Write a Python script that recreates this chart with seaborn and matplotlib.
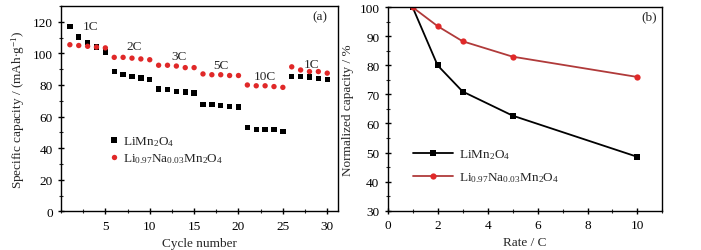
import numpy as np
import pandas as pd
import matplotlib
matplotlib.use('Agg')
import matplotlib.pyplot as plt
from matplotlib.ticker import MultipleLocator
import seaborn as sns

# данные
cycles = list(range(1, 31))
cap_lmo = [117, 110.5, 107, 104, 101,
           88.5, 86.5, 85.5, 84.5, 83.5,
           77.5, 77, 76, 75.5, 75,
           67.5, 67.5, 67, 66.5, 66,
           53, 52, 52, 52, 50.5,
           85.5, 85.5, 85, 84, 83.5]
cap_na = [105.5, 105, 104.5, 104, 103.5,
          97.5, 97.5, 97, 96.5, 96,
          92.5, 92.5, 92, 91, 91,
          87, 86.5, 86.5, 86, 86,
          80, 79.5, 79.5, 79, 78.5,
          91.5, 89.5, 88.5, 88.5, 87.5]

rates = [1, 2, 3, 5, 10]
norm_lmo = [100, 80, 71, 62.7, 48.5]
norm_na = [100, 93.5, 88.3, 83, 76]

rate_labels = ['1C', '2C', '3C', '5C', '10C', '1C']
rate_label_x = [3.3, 8.3, 13.3, 18.0, 23.0, 28.2]
rate_label_y = [117.5, 104.5, 98.5, 92.5, 85.5, 93]

name_lmo = r'LiMn$_2$O$_4$'
name_na = r'Li$_{0.97}$Na$_{0.03}$Mn$_2$O$_4$'

RED = '#e02828'
RED_LINE = '#b03a3a'
FS = 9.5

sns.set_style('ticks')
plt.rcParams['font.family'] = ['Liberation Serif', 'DejaVu Serif']
plt.rcParams['mathtext.fontset'] = 'custom'
plt.rcParams['mathtext.rm'] = 'Liberation Serif'
plt.rcParams['mathtext.it'] = 'Liberation Serif'
plt.rcParams['font.size'] = FS

df_a = pd.DataFrame({
    'cycle': cycles * 2,
    'cap': cap_lmo + cap_na,
    'sample': [name_lmo] * 30 + [name_na] * 30,
})
df_b = pd.DataFrame({
    'rate': rates * 2,
    'norm': norm_lmo + norm_na,
    'sample': [name_lmo] * 5 + [name_na] * 5,
})

fig = plt.figure(figsize=(7.01, 2.51), dpi=100)
ax1 = fig.add_axes([0.087, 0.154, 0.395, 0.818])
ax2 = fig.add_axes([0.553, 0.157, 0.392, 0.810])

# (a) — циклирование при разных токах
sns.scatterplot(data=df_a, x='cycle', y='cap', hue='sample', style='sample',
                markers={name_lmo: 's', name_na: 'o'},
                palette={name_lmo: 'black', name_na: RED},
                s=15, linewidth=0, ax=ax1)
ax1.set_xlim(0, 31.2)
ax1.set_ylim(0, 130)
ax1.xaxis.set_major_locator(MultipleLocator(5))
ax1.xaxis.set_minor_locator(MultipleLocator(2.5))
ax1.yaxis.set_major_locator(MultipleLocator(20))
ax1.yaxis.set_minor_locator(MultipleLocator(10))
ax1.set_xticks([5, 10, 15, 20, 25, 30])
ax1.set_xlabel('Cycle number', fontsize=FS)
ax1.set_ylabel(r'Specific capacity / (mAh$\cdot$g$^{-1}$)', fontsize=FS)
for lab, x, y in zip(rate_labels, rate_label_x, rate_label_y):
    ax1.text(x, y, lab, ha='center', va='center', fontsize=FS)
ax1.text(29.2, 123.5, '(a)', ha='center', va='center', fontsize=FS)
ax1.legend(loc='center left', bbox_to_anchor=(0.13, 0.30), frameon=False,
           handlelength=0.8, handletextpad=0.3, labelspacing=0.25,
           fontsize=FS, markerscale=1.0)

# (b) — нормированная ёмкость
sns.lineplot(data=df_b, x='rate', y='norm', hue='sample', style='sample',
             markers={name_lmo: 's', name_na: 'o'},
             dashes={name_lmo: '', name_na: ''},
             palette={name_lmo: 'black', name_na: RED_LINE},
             markersize=4.5, markeredgewidth=0, linewidth=1.3, ax=ax2)
# красные маркеры ярче линии
for ln in ax2.lines:
    if ln.get_color() == RED_LINE:
        ln.set_markerfacecolor(RED)
        ln.set_markeredgecolor(RED)
ax2.set_xlim(0, 11)
ax2.set_ylim(30, 100)
ax2.xaxis.set_major_locator(MultipleLocator(2))
ax2.xaxis.set_minor_locator(MultipleLocator(1))
ax2.yaxis.set_major_locator(MultipleLocator(10))
ax2.yaxis.set_minor_locator(MultipleLocator(5))
ax2.set_xlabel('Rate / C', fontsize=FS)
ax2.set_ylabel('Normalized capacity / %', fontsize=FS)
ax2.text(10.47, 96.9, '(b)', ha='center', va='center', fontsize=FS)
leg = ax2.legend(loc='center left', bbox_to_anchor=(0.05, 0.22), frameon=False,
                 handlelength=3.0, handletextpad=0.5, labelspacing=0.7,
                 fontsize=FS)
for h in leg.get_lines():
    h.set_markersize(4.5)
    h.set_linewidth(1.3)
    if h.get_color() == RED_LINE:
        h.set_markerfacecolor(RED)
        h.set_markeredgecolor(RED)

for ax in (ax1, ax2):
    for sp in ax.spines.values():
        sp.set_visible(True)
        sp.set_linewidth(1.0)
        sp.set_color('black')
    ax.tick_params(which='major', direction='inout', length=5, width=1.0,
                   labelsize=FS, colors='black')
    ax.tick_params(which='minor', direction='inout', length=3, width=0.8)
    ax.tick_params(top=False, right=False, which='both')

fig.savefig('out.png', dpi=100)
